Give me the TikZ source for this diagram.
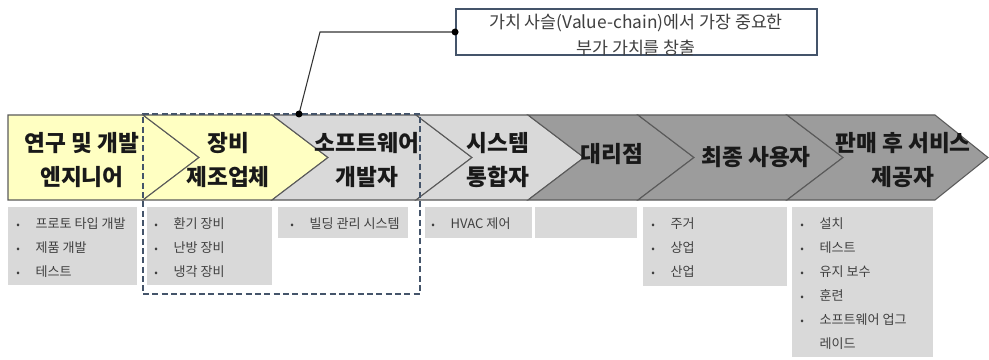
\documentclass[tikz,border=0pt]{standalone}
\usepackage{fontspec}
\setmainfont{Noto Sans CJK KR}
\usetikzlibrary{fit}
\definecolor{ylw}{HTML}{FFFFC2}
\definecolor{lgr}{HTML}{D9D9D9}
\definecolor{dgr}{HTML}{9C9C9C}
\definecolor{edge}{HTML}{5A5A5A}
\definecolor{selc}{HTML}{44546A}
\definecolor{txt}{HTML}{404040}
\newcommand\itm[1]{\makebox[14.5pt][l]{\scalebox{0.8}{•}}#1}
\newcommand\chevpath[5]{\draw[chev,fill=#1] (#2,115) -- (#3,115) -- (#4,157.5) -- (#3,200) -- (#2,200) -- (#5,157.5) -- cycle;}
\tikzset{
  chev/.style={draw=edge,line width=0.8pt,line join=miter},
  lab/.style={font=\fontsize{17}{26}\selectfont\bfseries,align=center,text=black!90},
  gbox/.style={fill=lgr,inner sep=0pt},
  btxt/.style={font=\fontsize{9.8}{18}\selectfont,text=txt,align=left,anchor=north west,inner sep=0pt},
  sel/.style={draw=selc,dashed,dash pattern=on 4.5pt off 2.5pt,line width=1.5pt,inner sep=0pt},
  callbox/.style={draw=selc,line width=1.4pt,inner sep=0pt},
  conn/.style={draw=black!80,line width=0.8pt},
  dot/.style={fill=black},
}
\begin{document}
\begin{tikzpicture}[x=0.75pt,y=-0.75pt]
\useasboundingbox (0,0) rectangle (989,360);
% chevrons
\draw[chev,fill=ylw] (8,115) -- (143,115) -- (199,157.5) -- (143,200) -- (8,200) -- cycle;
\chevpath{ylw}{143}{272}{328}{199}
\chevpath{lgr}{272}{416}{472}{328}
\chevpath{lgr}{416}{528}{584}{472}
\chevpath{dgr}{528}{638}{694}{584}
\chevpath{dgr}{638}{787}{843}{694}
\chevpath{dgr}{787}{935}{988}{843}
% labels
\node[lab] (l1) at (82,160) {연구 및 개발\\엔지니어};
\node[lab] (l2) at (228,160) {장비\\제조업체};
\node[lab] (l3) at (367,160) {소프트웨어\\개발자};
\node[lab] (l4) at (498,160) {시스템\\통합자};
\node[lab] (l5) at (612,154) {대리점};
\node[lab] (l6) at (756,157) {최종 사용자};
\node[lab] (l7) at (903,160) {판매 후 서비스\\제공자};
% bottom boxes
\node[gbox,fit={(8,207) (137,285)}] (b1) {};
\node[gbox,fit={(147,207) (272,285)}] (b2) {};
\node[gbox,fit={(278,207) (408,238)}] (b3) {};
\node[gbox,fit={(425,207) (532,238)}] (b4) {};
\node[gbox,fit={(535,207) (637,238)}] (b5) {};
\node[gbox,fit={(643,207) (787,286)}] (b6) {};
\node[gbox,fit={(792,207) (933,357)}] (b7) {};
\node[btxt] (t1) at (16,217) {\itm{프로토 타입 개발}\\\itm{제품 개발}\\\itm{테스트}};
\node[btxt] (t2) at (154,217) {\itm{환기 장비}\\\itm{난방 장비}\\\itm{냉각 장비}};
\node[btxt] (t3) at (290,217) {\itm{빌딩 관리 시스템}};
\node[btxt] (t4) at (431,217) {\itm{HVAC 제어}};
\node[btxt] (t6) at (651,217) {\itm{주거}\\\itm{상업}\\\itm{산업}};
\node[btxt] (t7) at (800,217) {\itm{설치}\\\itm{테스트}\\\itm{유지 보수}\\\itm{훈련}\\\itm{소프트웨어 업그}\\\hspace*{14.5pt}레이드};
% selection
\node[sel,fit={(143,114) (420,294)}] (selbox) {};
% callout
\node[callbox,fill=white,fit={(456,9) (817,55)}] (callout) {};
\node[font=\fontsize{13}{19}\selectfont,text=txt,align=center] (ctext) at (636,35) {가치 사슬(Value-chain)에서 가장 중요한\\부가 가치를 창출};
\coordinate (bend) at (320,32);
\coordinate (hit) at (299,114);
\draw[conn] (callout.west) -- (bend) -- (hit);
\fill[dot] (callout.west) circle (3.5);
\fill[dot] (hit) circle (3.5);
\end{tikzpicture}
\end{document}
